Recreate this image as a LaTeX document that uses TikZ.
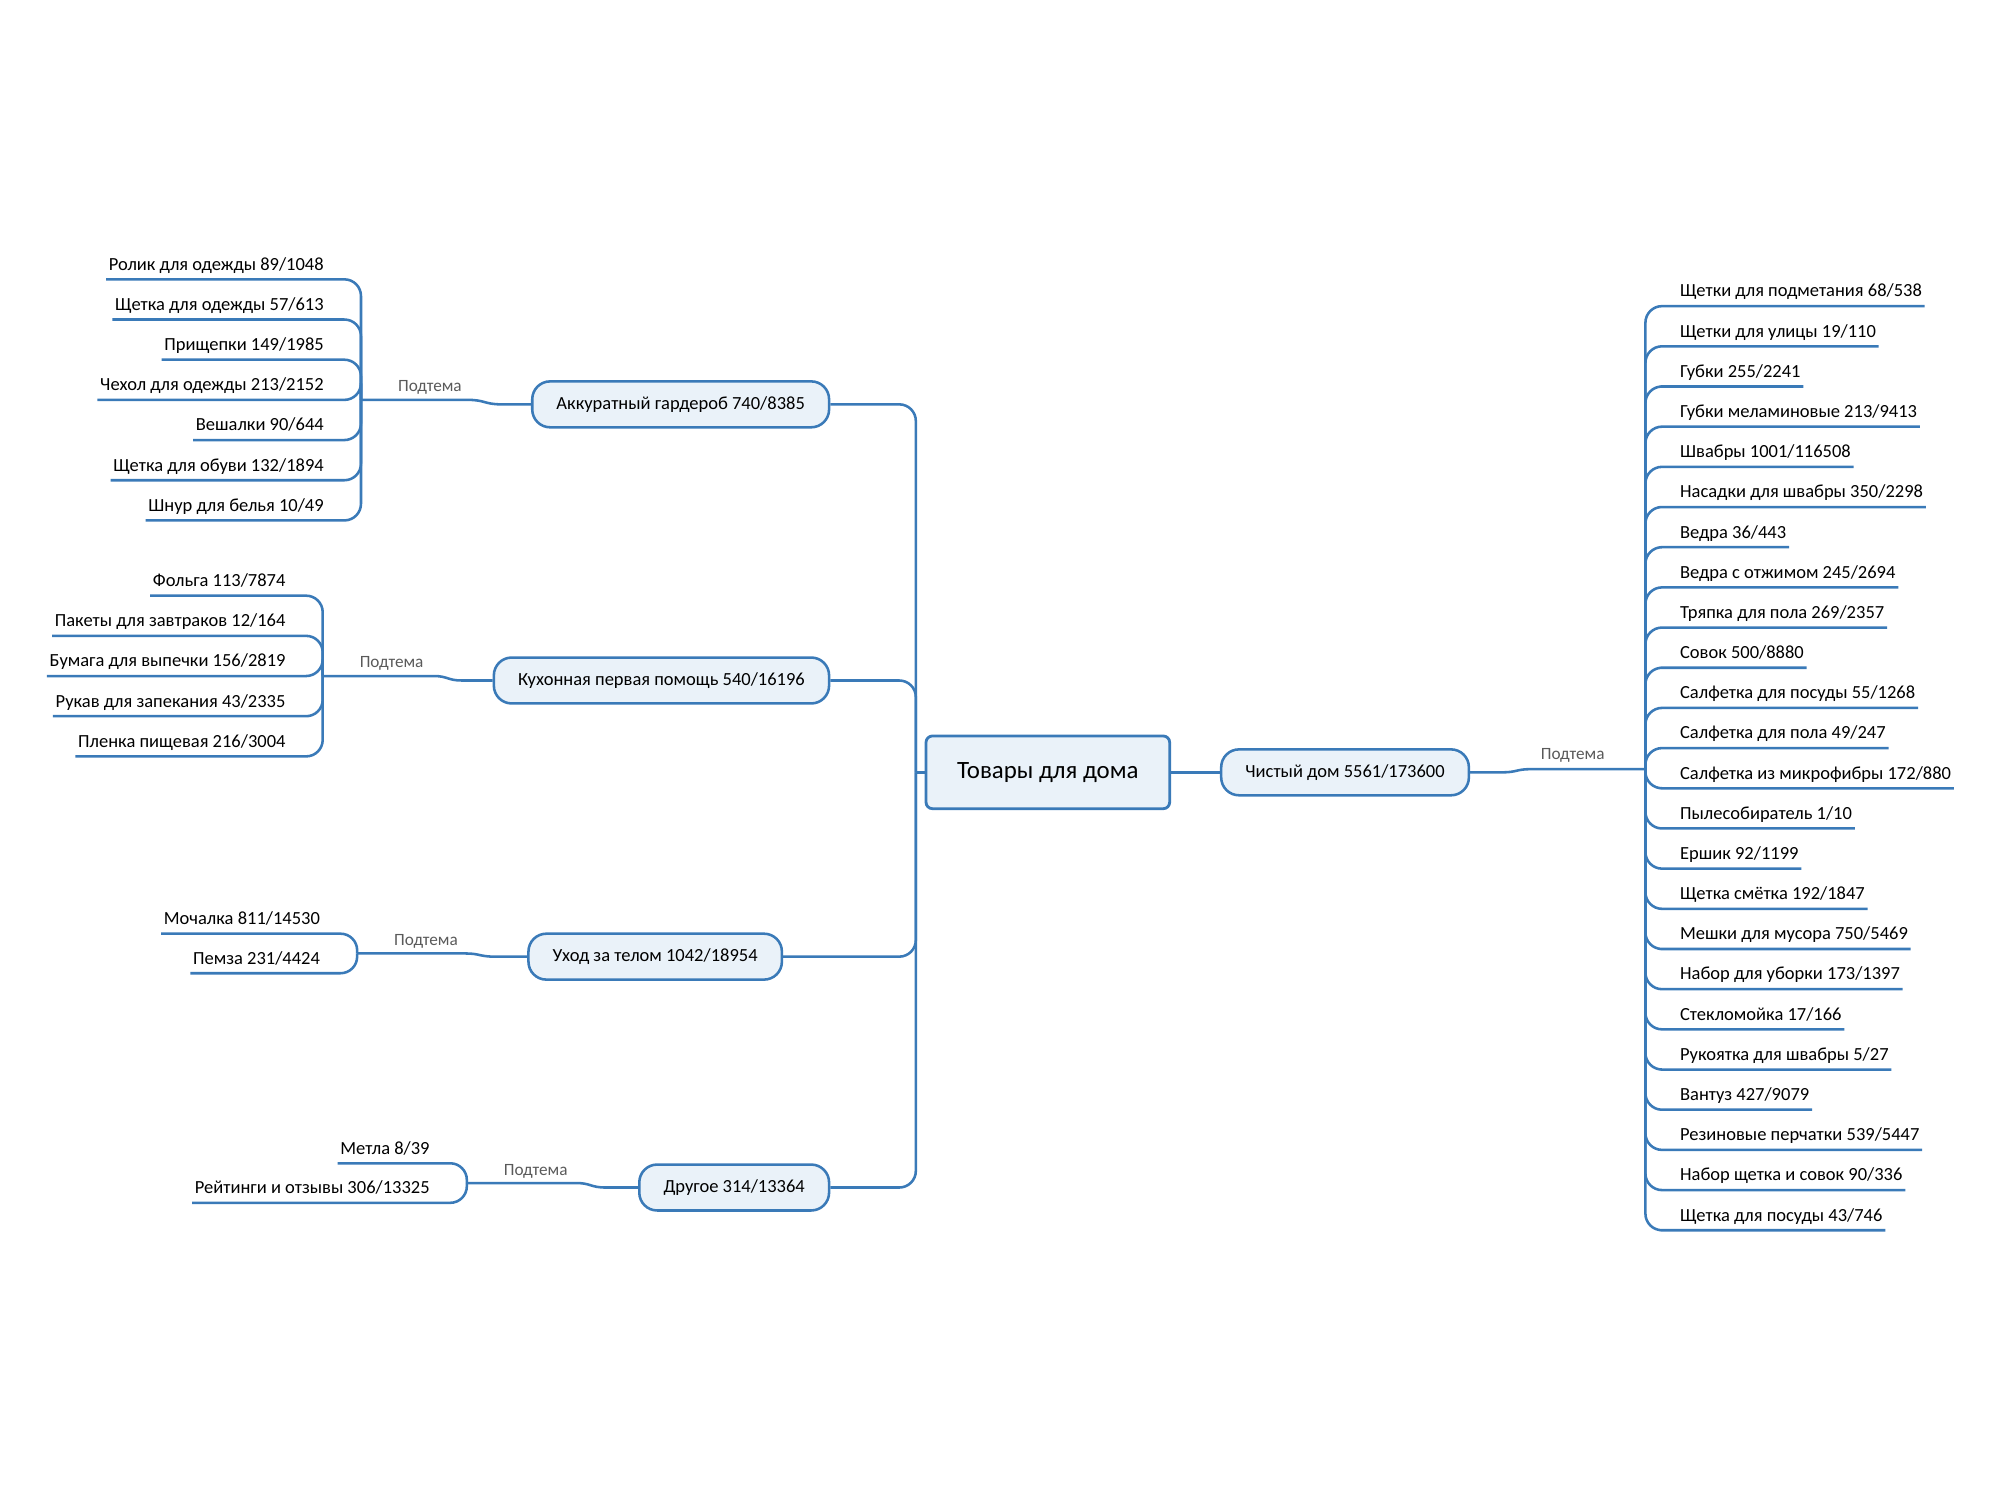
\documentclass[tikz,border=0pt]{standalone}
\usepackage{fontspec}
\setmainfont{Carlito}
\definecolor{lnc}{RGB}{58,122,184}
\definecolor{nfc}{RGB}{234,242,249}
\definecolor{lblc}{RGB}{90,90,90}
\tikzset{
 conn/.style={draw=lnc, line width=2pt},
 branch/.style={conn, rounded corners=13pt},
 topic/.style={draw=lnc, line width=2pt, fill=nfc, rounded corners=14pt, minimum height=36pt, inner xsep=19pt, font=\fontsize{14.5}{17}\selectfont},
 rootnode/.style={draw=lnc, line width=2.2pt, fill=nfc, rounded corners=5pt, minimum height=57pt, minimum width=191pt, font=\fontsize{19.5}{23}\selectfont},
 itemL/.style={anchor=south east, inner xsep=2pt, inner ysep=4pt, text height=10pt, text depth=3pt, font=\fontsize{14.5}{17}\selectfont},
 itemR/.style={itemL, anchor=south west},
 sublabel/.style={text=lblc, font=\fontsize{13.5}{16}\selectfont, inner sep=0pt},
}
\begin{document}
\begin{tikzpicture}[x=1pt,y=-1pt]
\useasboundingbox (0,0) rectangle (1568,1176);
% root and topics
\node[rootnode] (C) at (821.5,605.5) {Товары для дома};
\node[topic] (R) at (1054.5,605.5) {Чистый дом 5561/173600};
\node[topic, anchor=east] (T1) at (651,317) {Аккуратный гардероб 740/8385};
\node[topic, anchor=east] (T2) at (651,533.5) {Кухонная первая помощь 540/16196};
\node[topic, anchor=east] (T3) at (614,750) {Уход за телом 1042/18954};
\node[topic, anchor=east] (T4) at (651,931) {Другое 314/13364};
% main spine
\coordinate (S0) at (718,605.5);
\draw[conn] (C.west) -- (S0);
\foreach \t in {T1,T2,T3,T4} { \draw[branch] (S0) |- (\t.east); }
\draw[conn] (C.east) -- (R.west);
% right group
\coordinate (RJ) at (1290,603);
\coordinate (Ra) at (1178,605.5);
\coordinate (Rb) at (1200,603);
\draw[conn] (R.east) -- (Ra) .. controls (1189,605.5) and (1189,603) .. (Rb) -- (RJ);
\node[sublabel] (RL) at (1233,592.5) {Подтема};
\foreach \t [count=\i from 0] in {Щетки для подметания 68/538, Щетки для улицы 19/110, Губки 255/2241, Губки меламиновые 213/9413, Швабры 1001/116508, Насадки для швабры 350/2298, Ведра 36/443, Ведра с отжимом 245/2694, Тряпка для пола 269/2357, Совок 500/8880, Салфетка для посуды 55/1268, Салфетка для пола 49/247, Салфетка из микрофибры 172/880, Пылесобиратель 1/10, Ершик 92/1199, Щетка смётка 192/1847, Мешки для мусора 750/5469, Набор для уборки 173/1397, Стекломойка 17/166, Рукоятка для швабры 5/27, Вантуз 427/9079, Резиновые перчатки 539/5447, Набор щетка и совок 90/336, Щетка для посуды 43/746} {
  \node[itemR] (r\i) at (1315,240+31.5*\i) {\t};
  \draw[branch] (RJ) |- (r\i.south west) -- (r\i.south east);
}
% group 1
\coordinate (J1) at (283,313.5);
\coordinate (J1a) at (367,313.5);
\coordinate (J1b) at (393,317);
\draw[conn] (J1) -- (J1a) .. controls (380,313.5) and (380,317) .. (J1b) -- (T1.west);
\node[sublabel] (L1) at (337,304) {Подтема};
\foreach \t [count=\i from 0] in {Ролик для одежды 89/1048, Щетка для одежды 57/613, Прищепки 149/1985, Чехол для одежды 213/2152, Вешалки 90/644, Щетка для обуви 132/1894, Шнур для белья 10/49} {
  \node[itemL] (a\i) at (256,219+31.5*\i) {\t};
  \draw[branch] (J1) |- (a\i.south east) -- (a\i.south west);
}
% group 2
\coordinate (J2) at (253,530);
\coordinate (J2a) at (340,530);
\coordinate (J2b) at (362,533.5);
\draw[conn] (J2) -- (J2a) .. controls (351,530) and (351,533.5) .. (J2b) -- (T2.west);
\node[sublabel] (L2) at (307,520) {Подтема};
\foreach \t [count=\i from 0] in {Фольга 113/7874, Пакеты для завтраков 12/164, Бумага для выпечки 156/2819, Рукав для запекания 43/2335, Пленка пищевая 216/3004} {
  \node[itemL] (b\i) at (226,467+31.5*\i) {\t};
  \draw[branch] (J2) |- (b\i.south east) -- (b\i.south west);
}
% group 3
\coordinate (J3) at (280,747.5);
\coordinate (J3a) at (365,747.5);
\coordinate (J3b) at (388,750);
\draw[conn] (J3) -- (J3a) .. controls (376,747.5) and (376,750) .. (J3b) -- (T3.west);
\node[sublabel] (L3) at (334,738) {Подтема};
\foreach \t [count=\i from 0] in {Мочалка 811/14530, Пемза 231/4424} {
  \node[itemL] (c\i) at (253,732+31*\i) {\t};
  \draw[branch] (J3) |- (c\i.south east) -- (c\i.south west);
}
% group 4
\coordinate (J4) at (366,927.5);
\coordinate (J4a) at (452,927.5);
\coordinate (J4b) at (475,931);
\draw[conn] (J4) -- (J4a) .. controls (463,927.5) and (463,931) .. (J4b) -- (T4.west);
\node[sublabel] (L4) at (420,918) {Подтема};
\foreach \t [count=\i from 0] in {Метла 8/39, Рейтинги и отзывы 306/13325} {
  \node[itemL] (d\i) at (339,912+31*\i) {\t};
  \draw[branch] (J4) |- (d\i.south east) -- (d\i.south west);
}
\end{tikzpicture}
\end{document}
